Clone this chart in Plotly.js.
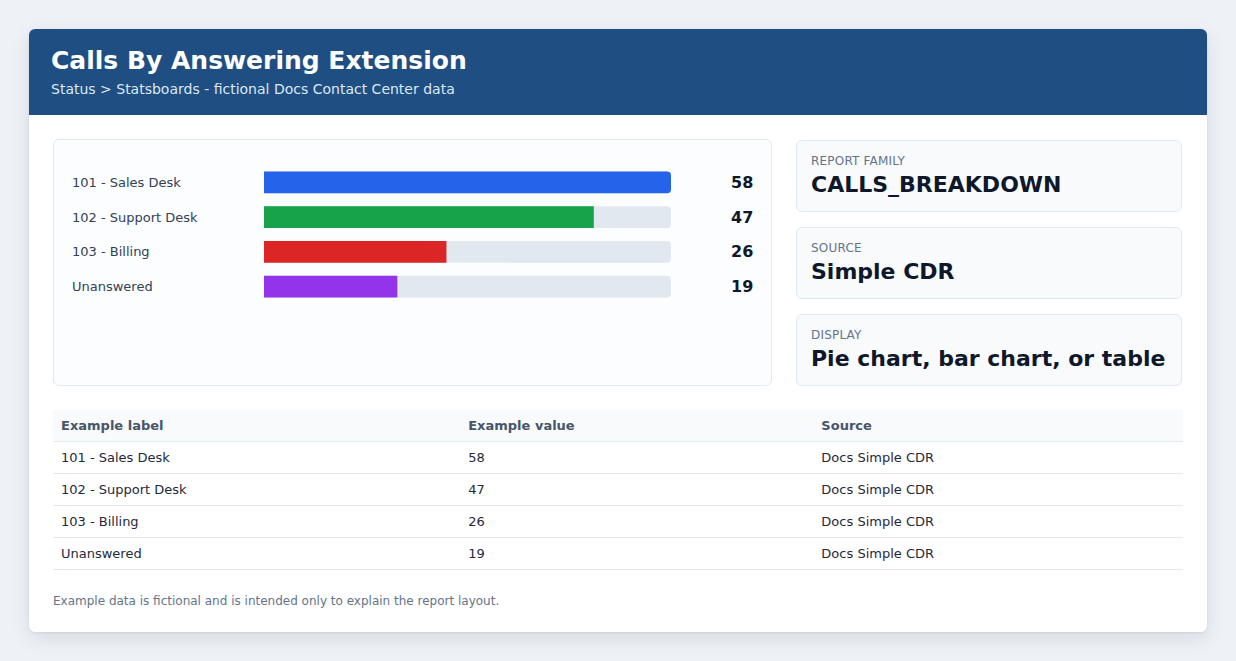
<!DOCTYPE html>
<html>
<head>
<meta charset="utf-8">
<script src="https://cdn.plot.ly/plotly-3.0.1.min.js"></script>
<style>
  html, body { margin: 0; padding: 0; }
  body {
    width: 1236px; height: 661px; background: #eef2f7;
    font-family: "DejaVu Sans", sans-serif; position: relative; overflow: hidden;
  }
  .card {
    position: absolute; left: 29px; top: 29px; width: 1178px; height: 603px;
    background: #ffffff; border-radius: 6px; overflow: hidden;
    box-shadow: 0 6px 20px rgba(15, 23, 42, 0.10), 0 1px 3px rgba(15, 23, 42, 0.08);
  }
  .head {
    position: absolute; left: 0; top: 0; width: 1178px; height: 86px; background: #1f4f82;
  }
  .head h1 {
    position: absolute; left: 22px; top: 16px; margin: 0;
    font-size: 25px; font-weight: bold; color: #ffffff; line-height: 32px; white-space: nowrap;
  }
  .head .sub {
    position: absolute; left: 22px; top: 51px; font-size: 14px; color: #dbe7f5;
    line-height: 18px; white-space: nowrap;
  }
  .panel {
    position: absolute; left: 24px; top: 110px; width: 719px; height: 247px;
    background: #fbfdff; border: 1px solid #e2e8f0; border-radius: 6px; box-sizing: border-box;
  }
  #bars { position: absolute; left: 0; top: 0; width: 719px; height: 247px; }
  .meta {
    position: absolute; left: 767px; width: 386px; height: 72px; box-sizing: border-box;
    background: #f8fafc; border: 1px solid #e2e8f0; border-radius: 6px;
  }
  .meta .k {
    position: absolute; left: 14px; top: 13px; font-size: 12px; color: #64748b;
    letter-spacing: 0.2px; line-height: 15px; white-space: nowrap;
  }
  .meta .v {
    position: absolute; left: 14px; top: 30px; font-size: 22px; font-weight: bold;
    color: #0f172a; line-height: 28px; white-space: nowrap;
  }
  table {
    position: absolute; left: 24px; top: 381px; width: 1130px;
    border-collapse: collapse; font-size: 13px; color: #1e293b;
  }
  th {
    background: #f8fafc; color: #475569; font-weight: bold; text-align: left;
    height: 31px; padding: 0 8px; border-bottom: 1px solid #e2e8f0;
  }
  td { height: 31px; padding: 0 8px; border-bottom: 1px solid #e2e8f0; }
  .note {
    position: absolute; left: 24px; top: 564px; font-size: 12px; color: #64748b;
    line-height: 16px; white-space: nowrap;
  }
</style>
</head>
<body>
<div class="card">
  <div class="head">
    <h1 id="title"></h1>
    <div class="sub" id="subtitle"></div>
  </div>
  <div class="panel"><div id="bars"></div></div>
  <div id="metaBox"></div>
  <table id="tbl"></table>
  <div class="note" id="note"></div>
</div>
<script>
// Calls per answering extension
const categories = ["101 - Sales Desk", "102 - Support Desk", "103 - Billing", "Unanswered"];
const calls = [58, 47, 26, 19];
const barColors = ["#2563eb", "#16a34a", "#dc2626", "#9333ea"];

const titleText = "Calls By Answering Extension";
const subtitleText = "Status > Statsboards - fictional Docs Contact Center data";

const metaKeys = ["REPORT FAMILY", "SOURCE", "DISPLAY"];
const metaValues = ["CALLS_BREAKDOWN", "Simple CDR", "Pie chart, bar chart, or table"];

const tableHeaders = ["Example label", "Example value", "Source"];
const sourceLabel = "Docs Simple CDR";
const noteText = "Example data is fictional and is intended only to explain the report layout.";

document.getElementById("title").textContent = titleText;
document.getElementById("subtitle").textContent = subtitleText;
document.getElementById("note").textContent = noteText;

// info cards on the right
const metaBox = document.getElementById("metaBox");
metaKeys.forEach((k, i) => {
  const d = document.createElement("div");
  d.className = "meta";
  d.style.top = (111 + i * 87) + "px";
  const a = document.createElement("div"); a.className = "k"; a.textContent = k;
  const b = document.createElement("div"); b.className = "v"; b.textContent = metaValues[i];
  d.appendChild(a); d.appendChild(b); metaBox.appendChild(d);
});

// example table
const tbl = document.getElementById("tbl");
const colW = ["408px", "352px", "370px"];
const hr = document.createElement("tr");
tableHeaders.forEach((h, i) => {
  const th = document.createElement("th"); th.textContent = h; th.style.width = colW[i]; hr.appendChild(th);
});
tbl.appendChild(hr);
categories.forEach((c, i) => {
  const tr = document.createElement("tr");
  [c, String(calls[i]), sourceLabel].forEach(v => {
    const td = document.createElement("td"); td.textContent = v; tr.appendChild(td);
  });
  tbl.appendChild(tr);
});

// horizontal bars: grey track at the max value, coloured fill on top
const maxVal = Math.max(...calls);
const track = {
  type: "bar", orientation: "h", y: categories, x: categories.map(() => maxVal),
  marker: { color: "#e2e8f0", cornerradius: 4 }, hoverinfo: "skip", showlegend: false
};
const fill = {
  type: "bar", orientation: "h", y: categories, x: calls,
  marker: { color: barColors, cornerradius: 4 }, showlegend: false,
  hovertemplate: "%{y}: %{x}<extra></extra>"
};

const annotations = [];
categories.forEach((c, i) => {
  annotations.push({
    xref: "paper", yref: "y", x: 0, xshift: -194, y: c, xanchor: "left", yanchor: "middle",
    text: c, showarrow: false, font: { family: "DejaVu Sans", size: 13, color: "#334155" }
  });
  annotations.push({
    xref: "paper", yref: "y", x: 1, xshift: 84, y: c, xanchor: "right", yanchor: "middle",
    text: "<b>" + calls[i] + "</b>", showarrow: false,
    font: { family: "DejaVu Sans", size: 16, color: "#0f172a" }
  });
});

const layout = {
  width: 719, height: 247,
  margin: { l: 210, r: 102, t: 24.5, b: 82.5, pad: 0 },
  paper_bgcolor: "rgba(0,0,0,0)", plot_bgcolor: "rgba(0,0,0,0)",
  barmode: "overlay", bargap: 13 / 35,
  xaxis: { range: [0, maxVal], showgrid: false, zeroline: false, showticklabels: false, fixedrange: true },
  yaxis: { type: "category", categoryorder: "array", categoryarray: categories, range: [3.5, -0.5],
           showgrid: false, zeroline: false, showticklabels: false, fixedrange: true },
  annotations: annotations,
  font: { family: "DejaVu Sans" }
};

Plotly.newPlot("bars", [track, fill], layout, { displayModeBar: false, staticPlot: true });
</script>
</body>
</html>
